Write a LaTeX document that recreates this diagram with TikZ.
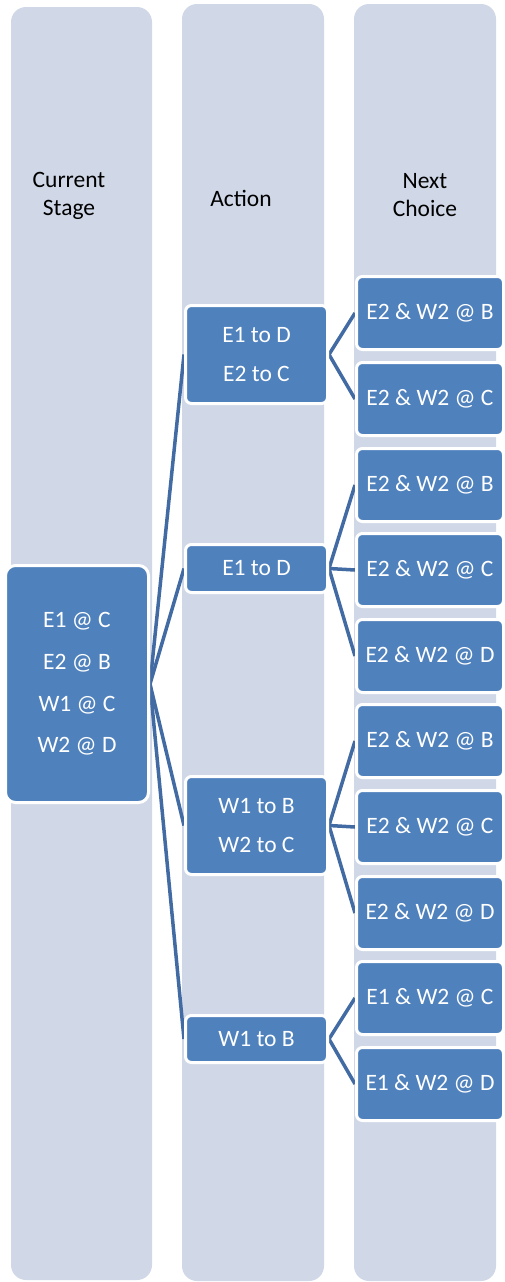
\documentclass[tikz,border=0pt]{standalone}
\usepackage{fontspec}
\setmainfont{Carlito}

\definecolor{lane}{RGB}{208,216,232}
\definecolor{boxblue}{RGB}{79,129,189}
\definecolor{linkblue}{RGB}{66,107,163}

\pgfdeclarelayer{lanes}
\pgfdeclarelayer{links}
\pgfsetlayers{lanes,links,main}

\tikzset{
  lanebox/.style={fill=lane, rounded corners=15pt, inner sep=0pt},
  header/.style={align=center, inner sep=0pt, text=black,
    font=\fontsize{23.5}{28}\selectfont},
  statebox/.style={fill=boxblue, draw=white, line width=3pt, text=white,
    align=center, inner sep=0pt, font=\fontsize{23.5}{40}\selectfont},
  stagebox/.style={statebox, rounded corners=10pt, minimum width=143pt,
    font=\fontsize{23.5}{41.7}\selectfont},
  actbox/.style={statebox, rounded corners=6pt, minimum width=142pt,
    font=\fontsize{23.5}{39}\selectfont},
  choicebox/.style={statebox, rounded corners=6pt, minimum width=147pt,
    minimum height=73pt},
  link/.style={draw=linkblue, line width=3.5pt}
}

\begin{document}
\begin{tikzpicture}[x=1pt,y=-1pt]
  \useasboundingbox (0,0) rectangle (505,1282);

  % three lanes
  \begin{pgfonlayer}{lanes}
    \node[lanebox, minimum width=141pt, minimum height=1273pt] (lane1) at (81.5,643.5) {};
    \node[lanebox, minimum width=142pt, minimum height=1277pt] (lane2) at (253,642.5) {};
    \node[lanebox, minimum width=142pt, minimum height=1277pt] (lane3) at (425,642.5) {};
  \end{pgfonlayer}

  % lane headings
  \node[header] (h1) at (69,196) {Current\\Stage};
  \node[header] (h2) at (241,198) {Action};
  \node[header] (h3) at (425,195) {Next\\Choice};

  % current stage
  \node[stagebox, minimum height=237pt] (cur) at (77,684)
    {E1 @ C\\E2 @ B\\W1 @ C\\W2 @ D};

  % actions
  \node[actbox, minimum height=98pt] (a1) at (256.5,354.5) {E1 to D\\E2 to C};
  \node[actbox, minimum height=48pt] (a2) at (256.5,568.5) {E1 to D};
  \node[actbox, minimum height=98pt] (a3) at (256.5,825.5) {W1 to B\\W2 to C};
  \node[actbox, minimum height=47pt] (a4) at (256.5,1039) {W1 to B};

  % next choices
  \node[choicebox] (n1)  at (430,313)  {E2 \& W2 @ B};
  \node[choicebox] (n2)  at (430,399)  {E2 \& W2 @ C};
  \node[choicebox] (n3)  at (430,485)  {E2 \& W2 @ B};
  \node[choicebox] (n4)  at (430,570)  {E2 \& W2 @ C};
  \node[choicebox] (n5)  at (430,656)  {E2 \& W2 @ D};
  \node[choicebox] (n6)  at (430,741)  {E2 \& W2 @ B};
  \node[choicebox] (n7)  at (430,827)  {E2 \& W2 @ C};
  \node[choicebox] (n8)  at (430,913)  {E2 \& W2 @ D};
  \node[choicebox] (n9)  at (430,998)  {E1 \& W2 @ C};
  \node[choicebox] (n10) at (430,1084) {E1 \& W2 @ D};

  % connectors, kept beneath the boxes
  \begin{pgfonlayer}{links}
    \foreach \a in {a1,a2,a3,a4}
      \draw[link] (cur.east) -- (\a.west);
    \foreach \a/\n in {a1/n1,a1/n2,a2/n3,a2/n4,a2/n5,a3/n6,a3/n7,a3/n8,a4/n9,a4/n10}
      \draw[link] (\a.east) -- (\n.west);
  \end{pgfonlayer}
\end{tikzpicture}
\end{document}
